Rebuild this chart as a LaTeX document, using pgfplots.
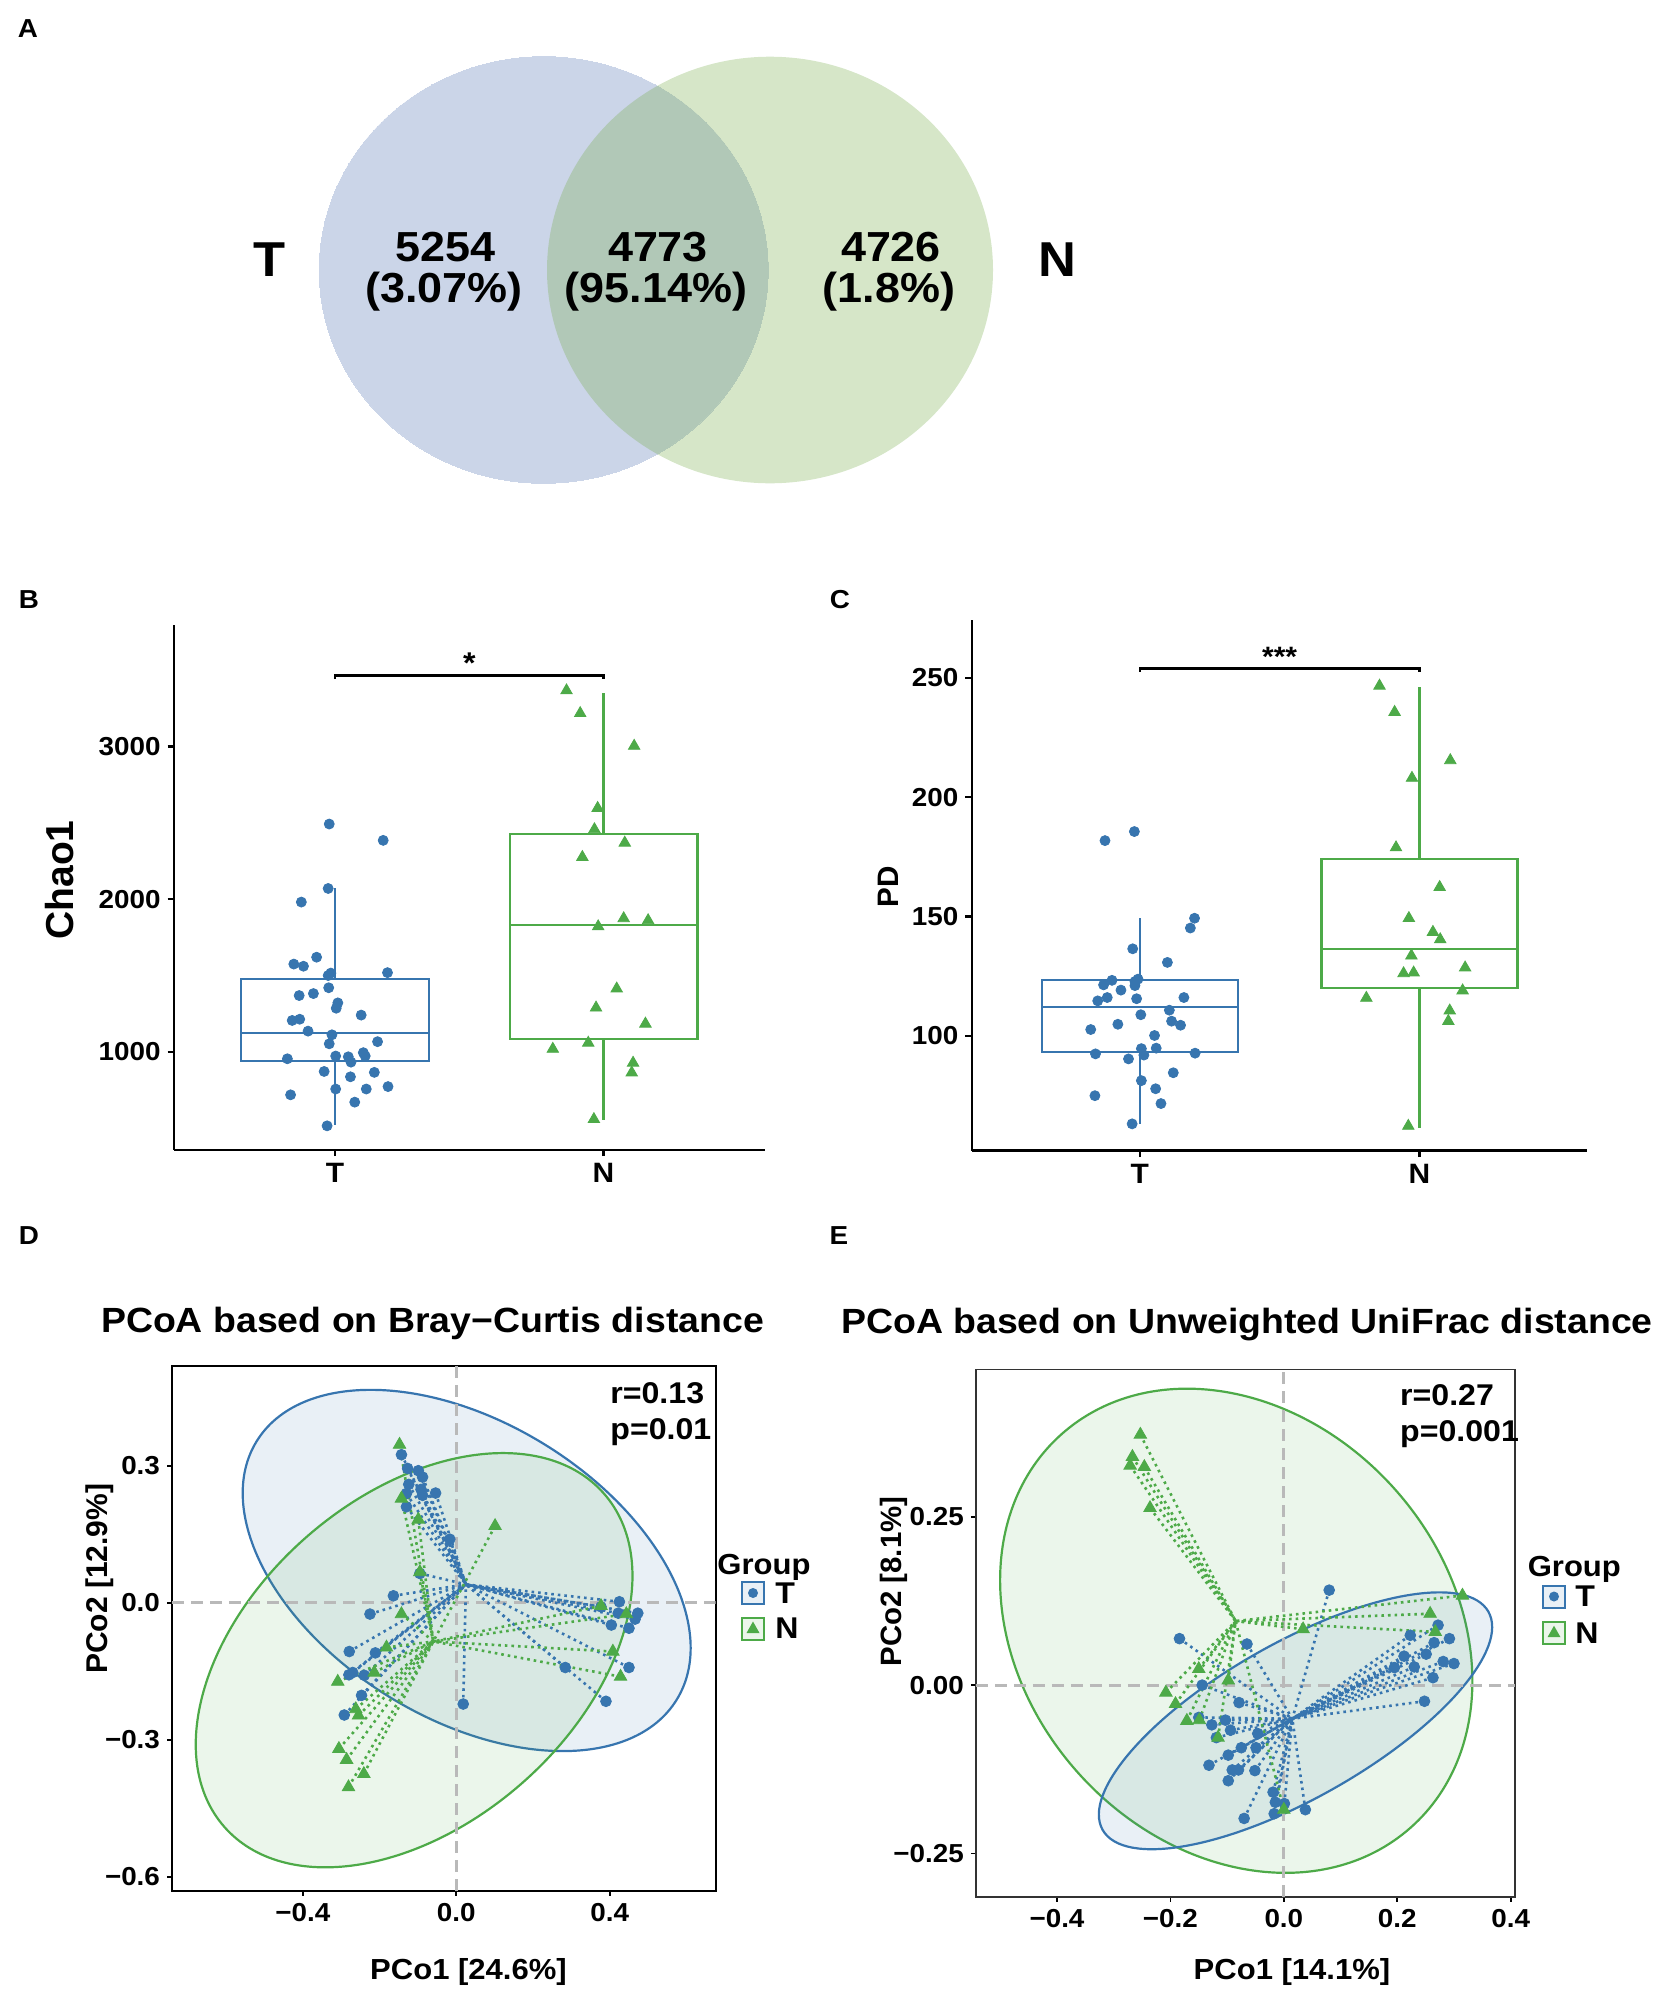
\documentclass[border=0pt]{standalone}
\usepackage{fontspec}
\setmainfont{Liberation Sans}[FakeStretch=1.07]
\newfontfamily\rotfont{Liberation Sans}
\usepackage{pgfplots}
\pgfplotsset{compat=1.18}
\usepackage{pgfplotstable}
\usetikzlibrary{shapes.geometric}

\definecolor{tblue}{RGB}{55,117,175}
\definecolor{ngreen}{RGB}{77,170,72}
\definecolor{vennT}{RGB}{203,213,232}
\definecolor{vennN}{RGB}{118,172,72}

\newcommand{\fs}[1]{\fontsize{#1}{#1}\selectfont\bfseries}

% Chao1, group T
\pgfplotstableread{
x y
0.978 2492
1.179 2385
0.974 2070
0.874 1981
0.931 1620
0.846 1575
0.882 1561
0.984 1516
0.974 1500
1.195 1519
0.976 1420
0.866 1369
0.919 1382
1.010 1321
1.004 1286
1.097 1241
0.840 1206
0.868 1214
0.899 1136
0.988 1112
1.158 1067
0.978 1053
0.822 955
1.002 973
1.049 968
1.105 995
1.112 973
1.059 933
0.959 872
1.146 866
1.057 837
0.834 719
1.002 757
1.116 757
1.197 773
1.073 671
0.970 516
}\chaoT
% Chao1, group N
\pgfplotstableread{
x y
1.862 3366
1.913 3217
2.114 3003
1.978 2596
1.966 2457
2.079 2369
1.921 2275
2.075 1874
2.166 1861
1.980 1821
2.049 1414
1.972 1289
2.156 1184
1.943 1059
1.811 1019
2.110 928
2.105 864
1.964 559
}\chaoN
% PD, group T
\pgfplotstableread{
x y
0.981 185.6
0.876 181.8
1.196 149.3
1.181 145.2
0.975 136.5
1.099 130.8
0.901 123.3
0.994 123.8
0.983 122.8
0.871 121.4
0.983 121.1
0.933 119.2
0.884 116.1
0.850 114.7
0.989 115.6
1.158 116.1
1.004 108.9
1.106 110.8
1.114 106.2
0.922 104.9
1.146 104.5
0.825 102.7
1.053 100.2
1.006 94.7
1.059 94.9
0.842 92.5
1.015 92.0
1.198 92.8
0.960 90.4
1.120 84.6
1.006 81.3
1.057 77.9
0.840 75.0
1.076 71.7
0.973 63.2
}\pdT
% PD, group N
\pgfplotstableread{
x y
1.857 246.6
1.911 235.6
2.110 215.4
1.973 208.0
1.916 178.9
2.072 162.3
1.962 149.3
2.048 143.5
2.074 140.4
1.971 133.6
2.163 128.6
1.943 126.2
1.979 126.5
2.154 119.0
1.810 115.9
2.108 110.6
2.103 106.2
1.960 62.3
}\pdN
% PCoA Bray-Curtis, group T
\pgfplotstableread{
x y
-0.143 0.324
-0.127 0.294
-0.099 0.289
-0.088 0.275
-0.124 0.259
-0.130 0.239
-0.092 0.248
-0.088 0.235
-0.054 0.240
-0.130 0.210
-0.017 0.139
-0.095 0.064
-0.164 0.015
-0.225 -0.025
-0.279 -0.107
-0.211 -0.110
-0.240 -0.159
-0.280 -0.158
-0.270 -0.153
-0.247 -0.203
-0.292 -0.246
0.018 -0.222
0.377 -0.009
0.425 0.002
0.473 -0.023
0.466 -0.036
0.422 -0.023
0.404 -0.049
0.450 -0.056
0.284 -0.142
0.450 -0.142
0.390 -0.216
}\bcT
% PCoA Bray-Curtis, group N
\pgfplotstableread{
x y
-0.148 0.346
-0.143 0.228
-0.099 0.182
0.101 0.168
-0.095 0.067
-0.143 -0.025
-0.182 -0.098
-0.214 -0.153
-0.309 -0.173
-0.262 -0.233
-0.255 -0.247
-0.306 -0.320
-0.286 -0.344
-0.241 -0.375
-0.281 -0.404
0.377 -0.007
0.408 -0.107
0.428 -0.162
0.443 -0.025
}\bcN
% PCoA unweighted UniFrac, group T
\pgfplotstableread{
x y
0.080 0.141
-0.184 0.069
-0.065 0.061
0.223 0.074
0.272 0.089
0.265 0.063
0.292 0.069
0.212 0.043
0.251 0.046
0.195 0.026
0.230 0.027
0.281 0.035
0.300 0.032
0.263 0.011
0.248 -0.024
-0.144 0.000
-0.079 -0.026
-0.150 -0.048
-0.127 -0.059
-0.103 -0.052
-0.094 -0.067
-0.119 -0.078
-0.046 -0.072
-0.075 -0.093
-0.049 -0.093
-0.098 -0.104
-0.132 -0.119
-0.091 -0.126
-0.080 -0.126
-0.051 -0.127
-0.098 -0.142
-0.019 -0.159
-0.015 -0.174
0.001 -0.176
-0.017 -0.191
0.038 -0.185
-0.070 -0.198
}\ufT
% PCoA unweighted UniFrac, group N
\pgfplotstableread{
x y
-0.253 0.372
-0.267 0.339
-0.271 0.326
-0.246 0.324
-0.236 0.263
0.315 0.133
0.258 0.106
0.267 0.079
0.034 0.083
-0.150 0.024
-0.098 0.007
-0.208 -0.011
-0.191 -0.028
-0.171 -0.053
-0.149 -0.052
-0.116 -0.078
0.000 -0.185
}\ufN

\pgfplotsset{
  boxpanel/.style={
    scale only axis, anchor=south west,
    xmin=0.4, xmax=2.6,
    axis x line=bottom, axis y line=left,
    axis line style={line width=1.3pt,-},
    xtick={1,2}, xticklabels={T,N},
    tick align=outside, major tick length=3.2pt,
    every tick/.style={black,line width=1.1pt},
    xticklabel style={font=\fs{14}},
    yticklabel style={font=\fs{13}},
    /pgf/number format/assume math mode=true,
    clip=false,
  },
  pcoapanel/.style={
    scale only axis, anchor=south west,
    xtick pos=bottom, ytick pos=left,
    tick align=outside, major tick length=2.5pt,
    every tick/.style={black,line width=0.9pt},
    ticklabel style={font=\fs{13}},
    /pgf/number format/assume math mode=true,
  },
  boxline/.style={line width=1.1pt},
  spider/.style={line width=1.3pt, dash pattern=on 1.3pt off 2pt},
  zeroline/.style={gray!55, line width=1.4pt, dash pattern=on 6pt off 3.5pt},
}

\begin{document}
\begin{tikzpicture}
\path[use as bounding box] (0,0) rectangle (827pt,-996pt);

% ---- A: Venn
\begin{axis}[at={(0pt,-250pt)}, anchor=south west, scale only axis,
  width=827pt, height=250pt, xmin=0, xmax=1654, ymin=-500, ymax=0,
  hide axis, clip=false]
\addplot[only marks, mark=*, mark size=106.65pt, color=vennT,
  mark options={line width=0pt, draw=vennT, fill=vennT, xscale=1.0525}] coordinates {(543.7,-270)};
\addplot[only marks, mark=*, mark size=106.65pt, color=vennN,
  mark options={line width=0pt, draw opacity=0, fill=vennN, fill opacity=0.3, xscale=1.0455}] coordinates {(770,-270)};
\end{axis}

% ---- B: Chao1
\begin{axis}[boxpanel, at={(87.05pt,-574.9pt)}, width=295.25pt, height=262.25pt,
  ymin=359, ymax=3793, ytick={1000,2000,3000}, yticklabels={1000,2000,3000}]
% T: whiskers 519/2070, quartiles 939/1479, median 1126
\addplot[tblue, boxline] coordinates {(1,1479) (1,2070)};
\addplot[tblue, boxline] coordinates {(1,939) (1,519)};
\addplot[tblue, boxline, fill=white] coordinates {(0.65,939) (1.35,939) (1.35,1479) (0.65,1479)} -- cycle;
\addplot[tblue, boxline] coordinates {(0.65,1126) (1.35,1126)};
% N: whiskers 553/3353, quartiles 1086/2425, median 1829
\addplot[ngreen, boxline] coordinates {(2,2425) (2,3353)};
\addplot[ngreen, boxline] coordinates {(2,1086) (2,553)};
\addplot[ngreen, boxline, fill=white] coordinates {(1.65,1086) (2.35,1086) (2.35,2425) (1.65,2425)} -- cycle;
\addplot[ngreen, boxline] coordinates {(1.65,1829) (2.35,1829)};
\addplot[only marks, mark=*, mark size=2.5pt, tblue] table {\chaoT};
\addplot[only marks, mark=triangle*, mark size=3.3pt, ngreen] table {\chaoN};
\addplot[black, line width=1.2pt] coordinates {(1,3441) (1,3465) (2,3465) (2,3441)};
\node[font=\fs{15}] at (axis cs:1.5,3543) {*};
\end{axis}

% ---- C: PD
\begin{axis}[boxpanel, at={(485.9pt,-575.3pt)}, width=307.8pt, height=265.1pt,
  ymin=52, ymax=274, ytick={100,150,200,250}, yticklabels={100,150,200,250}]
\addplot[tblue, boxline] coordinates {(1,123.3) (1,149.3)};
\addplot[tblue, boxline] coordinates {(1,93.3) (1,63.2)};
\addplot[tblue, boxline, fill=white] coordinates {(0.65,93.3) (1.35,93.3) (1.35,123.3) (0.65,123.3)} -- cycle;
\addplot[tblue, boxline] coordinates {(0.65,112.3) (1.35,112.3)};
\addplot[ngreen, boxline] coordinates {(2,174.1) (2,246)};
\addplot[ngreen, boxline] coordinates {(2,120.2) (2,61.6)};
\addplot[ngreen, boxline, fill=white] coordinates {(1.65,120.2) (2.35,120.2) (2.35,174.1) (1.65,174.1)} -- cycle;
\addplot[ngreen, boxline] coordinates {(1.65,136.3) (2.35,136.3)};
\addplot[only marks, mark=*, mark size=2.5pt, tblue] table {\pdT};
\addplot[only marks, mark=triangle*, mark size=3.3pt, ngreen] table {\pdN};
\addplot[black, line width=1.2pt] coordinates {(1,252.4) (1,253.8) (2,253.8) (2,252.4)};
\node[font=\fs{14}] at (axis cs:1.5,258.8) {***};
\end{axis}

% ---- D: Bray-Curtis
\begin{axis}[pcoapanel, at={(86pt,-945.4pt)}, width=271.85pt, height=262.35pt,
  xmin=-0.741, xmax=0.676, ymin=-0.631, ymax=0.518,
  axis line style={line width=1.1pt, black},
  xtick={-0.4,0,0.4}, xticklabels={−0.4,0.0,0.4},
  ytick={-0.6,-0.3,0,0.3}, yticklabels={−0.6,−0.3,0.0,0.3}]
\node[ellipse, draw=tblue, line width=1.1pt, fill=tblue, fill opacity=0.11,
  draw opacity=1, minimum width=246.6pt, minimum height=148.2pt, inner sep=0pt,
  rotate=-31.6] at (axis cs:0.027,0.0705) {};
\node[ellipse, draw=ngreen, line width=1.1pt, fill=ngreen, fill opacity=0.11,
  draw opacity=1, minimum width=252.6pt, minimum height=163.6pt, inner sep=0pt,
  rotate=41.3] at (axis cs:-0.110,-0.126) {};
\addplot[zeroline] coordinates {(0,-0.631) (0,0.518)};
\addplot[zeroline] coordinates {(-0.741,0) (0.676,0)};
\addplot[tblue, spider, quiver={u={0.025-(\thisrow{x})}, v={0.04-(\thisrow{y})}}] table {\bcT};
\addplot[ngreen, spider, quiver={u={-0.06-(\thisrow{x})}, v={-0.085-(\thisrow{y})}}] table {\bcN};
\addplot[only marks, mark=*, mark size=2.7pt, tblue] table {\bcT};
\addplot[only marks, mark=triangle*, mark size=3.6pt, ngreen] table {\bcN};
\end{axis}

% ---- E: unweighted UniFrac
\begin{axis}[pcoapanel, at={(487.95pt,-948.4pt)}, width=269.65pt, height=263.6pt,
  xmin=-0.543, xmax=0.408, ymin=-0.3144, ymax=0.4685,
  axis line style={line width=0.8pt, black!80},
  xtick={-0.4,-0.2,0,0.2,0.4}, xticklabels={−0.4,−0.2,0.0,0.2,0.4},
  ytick={-0.25,0,0.25}, yticklabels={−0.25,0.00,0.25}]
\node[ellipse, draw=ngreen, line width=1.1pt, fill=ngreen, fill opacity=0.11,
  draw opacity=1, minimum width=263pt, minimum height=212.6pt, inner sep=0pt,
  rotate=-48.4] at (axis cs:-0.0839,0.0807) {};
\node[ellipse, draw=tblue, line width=1.1pt, fill=tblue, fill opacity=0.11,
  draw opacity=1, minimum width=221.6pt, minimum height=77.8pt, inner sep=0pt,
  rotate=29.5] at (axis cs:0.0206,-0.053) {};
\addplot[zeroline] coordinates {(0,-0.3144) (0,0.4685)};
\addplot[zeroline] coordinates {(-0.543,0) (0.408,0)};
\addplot[tblue, spider, quiver={u={0.015-(\thisrow{x})}, v={-0.05-(\thisrow{y})}}] table {\ufT};
\addplot[ngreen, spider, quiver={u={-0.085-(\thisrow{x})}, v={0.095-(\thisrow{y})}}] table {\ufN};
\addplot[only marks, mark=*, mark size=2.7pt, tblue] table {\ufT};
\addplot[only marks, mark=triangle*, mark size=3.6pt, ngreen] table {\ufN};
\end{axis}

% ---- texts, in pixels of the reference (0.5pt each)
\begin{scope}[x=0.5pt,y=-0.5pt]
\node[font=\fs{13}] at (28,29) {A};
\node[font=\fs{13}] at (29,600) {B};
\node[font=\fs{13}] at (840,600) {C};
\node[font=\fs{13}] at (29,1235.5) {D};
\node[font=\fs{13}] at (839,1235.5) {E};

\node[font=\fs{24.5}] at (270,260) {T};
\node[font=\fs{24.5}] at (1057,260) {N};
\node[font=\fs{21}, anchor=base] at (445.7,261) {5254};
\node[font=\fs{21}, anchor=base] at (444,302) {(3.07\%)};
\node[font=\fs{21}, anchor=base] at (658,261) {4773};
\node[font=\fs{21}, anchor=base] at (656,302) {(95.14\%)};
\node[font=\fs{21}, anchor=base] at (891,261) {4726};
\node[font=\fs{21}, anchor=base] at (889,302) {(1.8\%)};

\node[font=\rotfont\fontsize{19.5}{19.5}\selectfont\bfseries, rotate=90] at (59.6,880) {Chao1};
\node[font=\rotfont\fontsize{14.8}{14.8}\selectfont\bfseries, rotate=90] at (888,886.5) {PD};

\node[font=\fs{17.5}, anchor=base] at (432.5,1332.2) {PCoA based on Bray−Curtis distance};
\node[font=\fs{17.5}, anchor=base] at (1246.9,1333.7) {PCoA based on Unweighted UniFrac distance};
\node[font=\fs{14.5}, anchor=base] at (468.5,1979) {PCo1 [24.6\%]};
\node[font=\fs{14.5}, anchor=base] at (1292,1979) {PCo1 [14.1\%]};
\node[font=\rotfont\fontsize{15}{15}\selectfont\bfseries, rotate=90, anchor=base] at (107.5,1578.7) {PCo2 [12.9\%]};
\node[font=\rotfont\fontsize{14.7}{14.7}\selectfont\bfseries, rotate=90, anchor=base] at (901,1581.6) {PCo2 [8.1\%]};

\node[font=\fs{15}, anchor=base west, inner sep=0pt] at (610,1403.5) {r=0.13};
\node[font=\fs{15}, anchor=base west, inner sep=0pt] at (610,1439.4) {p=0.01};
\node[font=\fs{15}, anchor=base west, inner sep=0pt] at (1399.8,1405.5) {r=0.27};
\node[font=\fs{15}, anchor=base west, inner sep=0pt] at (1399.8,1441.9) {p=0.001};

% legends
\node[font=\fs{14.5}, anchor=base west, inner sep=0pt] at (717,1574) {Group};
\draw[tblue, line width=1pt, fill=tblue!11] (742,1582) rectangle (764,1604);
\fill[tblue] (753,1593) circle (5);
\draw[ngreen, line width=1pt, fill=ngreen!11] (742,1617.5) rectangle (764,1639.5);
\fill[ngreen] (753,1621.5) -- (759.5,1633) -- (746.5,1633) -- cycle;
\node[font=\fs{15}, anchor=west, inner sep=0pt] at (775,1593) {T};
\node[font=\fs{15}, anchor=west, inner sep=0pt] at (775,1628.5) {N};

\node[font=\fs{14.5}, anchor=base west, inner sep=0pt] at (1527.4,1576.6) {Group};
\draw[tblue, line width=1pt, fill=tblue!11] (1543,1585.5) rectangle (1565,1607.5);
\fill[tblue] (1554,1596.5) circle (5);
\draw[ngreen, line width=1pt, fill=ngreen!11] (1543,1621.7) rectangle (1565,1643.7);
\fill[ngreen] (1554,1625.7) -- (1560.5,1637.2) -- (1547.5,1637.2) -- cycle;
\node[font=\fs{15}, anchor=west, inner sep=0pt] at (1575,1596.5) {T};
\node[font=\fs{15}, anchor=west, inner sep=0pt] at (1575,1632.7) {N};
\end{scope}
\end{tikzpicture}
\end{document}
